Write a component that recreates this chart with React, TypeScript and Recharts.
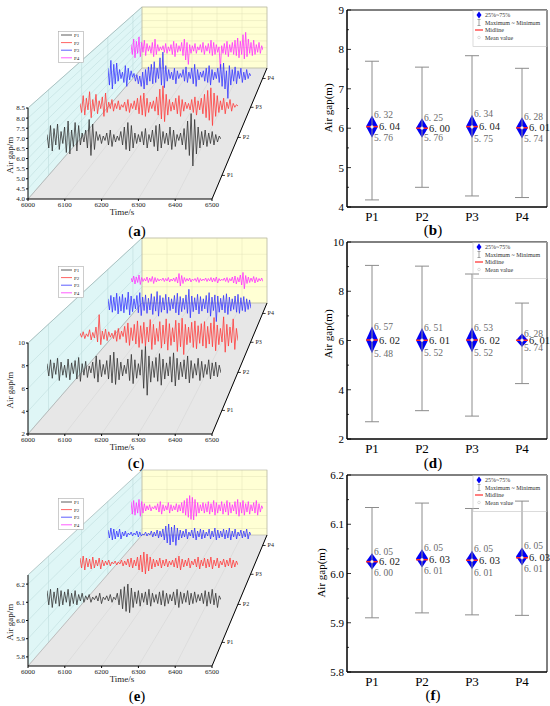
import React from "react";
import { ComposedChart, LineChart, Line, Bar, XAxis, YAxis, ReferenceArea, LabelList, ErrorBar } from "recharts";

const SERIF = '"Liberation Serif", "Times New Roman", serif';

const timeTicks = [6000, 6100, 6200, 6300, 6400, 6500];
const pointNames = ["P1", "P2", "P3", "P4"];
const traceColors = ["#333333", "#ff3b3b", "#3636ff", "#ff33ff"];

// ---- time series (a): air gap, m
const gapA1 = [
  6.3, 5.4, 6.9, 5.2, 6.7, 5.6, 7.0, 5.3, 6.5, 5.7, 6.8, 5.1, 7.2, 5.0, 6.6, 5.5, 7.1, 5.2, 6.9, 5.6,
  6.4, 5.8, 6.6, 5.4, 7.3, 4.9, 7.0, 5.3, 6.5, 5.9, 6.3, 5.7, 6.2, 5.9, 6.4, 5.6, 6.6, 5.5, 6.3, 5.8,
  6.2, 5.9, 6.5, 5.6, 6.8, 5.3, 7.1, 5.2, 6.9, 5.4, 6.4, 5.7, 6.3, 5.8, 6.5, 5.6, 6.7, 5.4, 6.3, 5.8,
  6.6, 5.5, 6.9, 5.2, 7.0, 5.4, 6.5, 5.7, 6.4, 5.6, 6.8, 5.3, 6.6, 5.5, 6.3, 5.9, 6.4, 5.6, 6.7, 5.3,
  7.2, 4.9, 7.7, 4.2, 7.3, 5.0, 6.8, 5.4, 6.5, 5.6, 6.6, 5.5, 6.4, 5.7, 6.5, 5.6, 6.3, 5.8, 6.2, 6.0,
];
const gapA2 = [
  6.2, 5.5, 6.8, 5.3, 6.6, 5.7, 7.1, 5.1, 6.5, 5.6, 6.9, 5.4, 6.4, 5.8, 6.7, 5.2, 7.0, 5.5, 6.3, 5.8,
  6.5, 5.6, 6.2, 5.8, 6.4, 5.7, 6.1, 5.9, 6.3, 5.6, 6.5, 5.5, 6.2, 5.8, 6.4, 5.7, 6.6, 5.4, 6.8, 5.3,
  7.0, 5.2, 6.6, 5.5, 6.3, 5.8, 6.4, 5.6, 6.7, 5.3, 7.3, 5.0, 7.55, 4.8, 6.9, 5.3, 6.5, 5.6, 6.3, 5.7,
  6.6, 5.4, 6.8, 5.2, 6.5, 5.6, 6.3, 5.8, 6.2, 5.7, 6.5, 5.5, 6.7, 5.3, 6.4, 5.7, 6.6, 5.4, 6.9, 5.1,
  7.2, 4.9, 7.4, 4.5, 7.0, 5.2, 6.8, 5.5, 6.4, 5.7, 6.6, 5.4, 6.3, 5.8, 6.5, 5.6, 6.2, 5.9, 6.1, 6.0,
];
const gapA3 = [
  6.6, 5.3, 7.2, 5.0, 6.9, 5.4, 7.0, 5.6, 6.5, 5.8, 6.3, 5.5, 6.8, 5.2, 6.6, 5.7, 6.4, 5.9, 6.2, 5.6,
  6.1, 5.4, 6.0, 5.2, 6.3, 5.0, 6.5, 5.3, 6.7, 5.6, 6.9, 5.4, 7.1, 5.5, 6.6, 5.8, 7.4, 5.3, 7.84, 5.1,
  6.8, 5.6, 6.5, 5.8, 6.3, 5.7, 6.6, 5.4, 6.4, 5.8, 6.2, 5.9, 6.5, 5.6, 6.7, 5.5, 6.3, 5.8, 6.6, 5.4,
  6.9, 5.2, 6.5, 5.7, 6.3, 5.9, 6.4, 5.6, 6.6, 5.5, 6.8, 5.3, 6.5, 5.7, 6.3, 5.8, 6.6, 5.5, 6.9, 5.2,
  7.0, 5.0, 6.4, 4.28, 6.8, 5.3, 6.5, 5.6, 6.7, 5.4, 6.4, 5.8, 6.6, 5.5, 6.3, 5.7, 6.5, 5.8, 6.2, 6.0,
];
const gapA4 = [
  6.4, 5.5, 6.9, 5.2, 6.7, 5.6, 7.1, 5.3, 6.6, 5.7, 6.8, 5.4, 6.5, 5.8, 6.3, 5.6, 6.6, 5.3, 6.9, 5.5,
  6.4, 5.8, 6.2, 5.9, 6.3, 5.7, 6.5, 5.6, 6.2, 5.8, 6.4, 5.5, 6.7, 5.3, 6.5, 5.7, 6.3, 5.8, 6.6, 5.4,
  6.9, 5.0, 6.6, 4.6, 6.4, 5.6, 6.3, 5.8, 6.5, 5.6, 6.2, 5.9, 6.4, 5.7, 6.6, 5.5, 6.3, 5.8, 6.5, 5.6,
  6.8, 5.4, 6.6, 5.5, 6.4, 5.7, 6.2, 4.24, 6.3, 5.6, 6.5, 5.5, 6.7, 5.3, 6.4, 5.7, 6.6, 5.5, 6.8, 5.4,
  7.0, 5.2, 6.7, 5.5, 7.3, 5.1, 7.52, 5.3, 6.9, 5.6, 6.6, 5.4, 6.8, 5.5, 6.4, 5.7, 6.6, 5.6, 6.3, 5.9,
];

// ---- time series (c)
const gapC1 = [
  6.8, 5.2, 7.3, 4.9, 6.9, 5.4, 7.5, 4.6, 7.0, 5.3, 6.6, 5.0, 7.4, 4.7, 6.9, 5.5, 7.2, 4.8, 7.6, 4.5,
  6.8, 5.3, 7.1, 5.0, 6.5, 5.6, 7.0, 4.9, 7.8, 4.4, 7.3, 5.1, 6.7, 5.4, 7.2, 4.8, 7.9, 4.3, 8.3, 4.1,
  7.5, 4.7, 7.0, 5.2, 6.6, 5.5, 7.4, 4.6, 8.0, 4.2, 7.3, 4.9, 6.8, 5.3, 8.6, 3.6, 9.05, 2.7, 7.8, 4.4,
  7.1, 5.0, 7.6, 4.5, 8.1, 4.0, 7.4, 4.8, 6.9, 5.2, 7.7, 4.4, 8.2, 3.9, 7.5, 4.7, 7.0, 5.1, 7.3, 4.8,
  7.8, 4.3, 7.2, 4.9, 6.8, 5.3, 7.5, 4.6, 7.1, 5.0, 6.7, 5.4, 7.3, 4.8, 6.9, 5.2, 7.0, 5.1, 6.6, 5.6,
];
const gapC2 = [
  6.3, 5.7, 6.5, 5.5, 6.2, 5.8, 6.8, 5.3, 6.4, 5.6, 7.2, 5.0, 9.02, 4.6, 6.6, 5.4, 6.9, 5.2, 6.5, 5.7,
  6.3, 5.5, 6.7, 5.1, 7.0, 5.4, 6.6, 5.8, 7.3, 4.9, 7.8, 4.5, 7.1, 5.2, 7.6, 4.7, 8.1, 4.2, 7.4, 4.8,
  7.9, 4.4, 7.2, 5.0, 8.3, 3.9, 7.6, 4.6, 7.0, 5.1, 8.0, 4.1, 7.5, 4.7, 8.4, 3.8, 7.7, 4.5, 7.1, 5.0,
  8.2, 3.6, 7.8, 4.3, 8.5, 3.15, 7.6, 4.6, 7.2, 4.9, 7.9, 4.2, 8.1, 4.0, 7.4, 4.8, 7.7, 4.4, 8.0, 4.1,
  7.3, 4.7, 7.8, 4.3, 8.6, 3.7, 7.5, 4.6, 7.0, 5.0, 8.7, 3.5, 7.6, 4.4, 7.2, 4.9, 8.4, 3.9, 7.0, 5.2,
];
const gapC3 = [
  7.0, 5.0, 7.6, 4.6, 7.3, 4.9, 8.0, 4.3, 7.4, 4.8, 7.8, 4.5, 7.2, 5.1, 8.2, 4.1, 7.5, 4.7, 7.0, 5.2,
  7.6, 4.5, 8.1, 4.0, 7.3, 4.9, 7.7, 4.4, 7.1, 5.0, 7.9, 4.2, 7.4, 4.8, 8.3, 3.9, 7.6, 4.6, 7.2, 5.0,
  7.8, 4.4, 7.3, 4.9, 7.0, 5.2, 7.6, 4.5, 8.0, 4.1, 7.4, 4.7, 7.1, 5.1, 7.7, 4.4, 8.7, 3.6, 7.5, 4.7,
  7.2, 5.0, 7.8, 4.3, 7.4, 4.8, 7.0, 5.2, 7.6, 4.5, 8.1, 3.9, 7.3, 4.9, 7.7, 2.93, 7.5, 4.6, 7.1, 5.0,
  7.6, 4.5, 7.9, 4.2, 7.3, 4.8, 7.0, 5.1, 7.5, 4.6, 7.8, 4.4, 7.2, 4.9, 7.4, 4.7, 7.0, 5.1, 6.8, 5.3,
];
const gapC4 = [
  6.4, 5.6, 6.8, 5.2, 6.6, 5.5, 7.0, 5.1, 6.5, 5.7, 6.3, 5.8, 6.6, 5.5, 6.4, 5.7, 6.7, 5.3, 6.5, 5.6,
  6.3, 5.8, 6.2, 5.9, 6.4, 5.7, 6.3, 5.8, 6.5, 5.6, 6.2, 5.8, 6.4, 5.7, 6.6, 5.4, 7.3, 4.8, 6.9, 5.3,
  6.5, 5.7, 6.3, 5.8, 6.4, 5.6, 6.2, 5.9, 6.3, 5.7, 6.5, 5.5, 6.3, 5.8, 6.2, 5.9, 6.4, 5.7, 6.3, 5.8,
  6.5, 5.6, 6.4, 5.7, 6.6, 5.4, 6.3, 5.8, 6.2, 5.9, 6.4, 5.7, 6.5, 5.5, 6.3, 5.8, 6.6, 5.4, 6.8, 5.2,
  6.5, 5.6, 7.0, 5.0, 7.52, 4.25, 6.9, 5.3, 6.6, 5.5, 6.4, 5.7, 6.7, 5.4, 6.5, 5.6, 6.3, 5.8, 6.4, 5.7,
];

// ---- time series (e)
const gapE1 = [
  6.08, 5.97, 6.09, 5.95, 6.07, 5.98, 6.10, 5.96, 6.08, 5.97, 6.07, 5.99, 6.09, 5.96, 6.06, 5.98, 6.08, 5.97, 6.05, 6.00,
  6.06, 5.99, 6.04, 6.01, 6.05, 5.99, 6.03, 6.01, 6.04, 6.00, 6.06, 5.98, 6.03, 6.01, 6.04, 6.00, 6.05, 5.99, 6.03, 6.01,
  6.06, 5.97, 6.09, 5.94, 6.11, 5.92, 6.13, 5.91, 6.10, 5.95, 6.07, 5.98, 6.08, 5.96, 6.06, 5.99, 6.07, 5.97, 6.09, 5.96,
  6.06, 5.99, 6.05, 5.98, 6.07, 5.97, 6.08, 5.96, 6.06, 5.98, 6.05, 6.00, 6.07, 5.97, 6.09, 5.95, 6.07, 5.98, 6.06, 5.99,
  6.08, 5.97, 6.06, 5.98, 6.07, 5.99, 6.05, 6.00, 6.06, 5.98, 6.08, 5.96, 6.07, 5.98, 6.09, 5.97, 6.06, 5.95, 6.04, 6.01,
];
const gapE2 = [
  6.08, 5.98, 6.10, 5.96, 6.08, 5.99, 6.07, 5.97, 6.09, 5.98, 6.06, 6.00, 6.08, 5.97, 6.06, 6.00, 6.05, 6.01, 6.06, 6.00,
  6.04, 6.02, 6.05, 6.01, 6.04, 6.02, 6.06, 6.00, 6.05, 6.01, 6.07, 5.99, 6.08, 5.98, 6.06, 6.00, 6.09, 5.96, 6.11, 5.94,
  6.14, 5.92, 6.12, 5.95, 6.09, 5.97, 6.07, 5.99, 6.06, 6.00, 6.08, 5.98, 6.06, 6.00, 6.07, 5.99, 6.05, 6.01, 6.06, 5.99,
  6.08, 5.98, 6.10, 5.96, 6.07, 5.99, 6.06, 6.00, 6.08, 5.98, 6.05, 6.01, 6.07, 5.99, 6.09, 5.97, 6.06, 6.00, 6.08, 5.98,
  6.07, 5.99, 6.09, 5.97, 6.06, 6.00, 6.08, 5.98, 6.05, 6.01, 6.07, 5.99, 6.06, 6.00, 6.08, 5.98, 6.06, 5.99, 6.05, 6.01,
];
const gapE3 = [
  6.07, 5.99, 6.09, 5.97, 6.08, 5.98, 6.06, 6.00, 6.08, 5.98, 6.05, 6.01, 6.06, 6.00, 6.04, 6.02, 6.05, 6.01, 6.04, 6.02,
  6.06, 6.00, 6.05, 6.01, 6.03, 6.02, 6.05, 6.01, 6.04, 6.02, 6.06, 6.00, 6.05, 6.01, 6.07, 5.99, 6.06, 6.00, 6.08, 5.97,
  6.11, 5.94, 6.13, 5.92, 6.10, 5.95, 6.12, 5.916, 6.09, 5.97, 6.07, 5.99, 6.06, 6.00, 6.08, 5.98, 6.05, 6.01, 6.07, 5.99,
  6.09, 5.97, 6.06, 6.00, 6.08, 5.98, 6.07, 5.99, 6.05, 6.01, 6.08, 5.98, 6.06, 6.00, 6.09, 5.97, 6.07, 5.99, 6.06, 6.00,
  6.08, 5.98, 6.07, 5.99, 6.09, 5.97, 6.06, 6.00, 6.08, 5.98, 6.05, 6.01, 6.07, 5.99, 6.06, 6.00, 6.08, 5.98, 6.05, 6.02,
];
const gapE4 = [
  6.09, 5.97, 6.10, 5.96, 6.08, 5.98, 6.11, 5.95, 6.09, 5.98, 6.07, 6.00, 6.05, 6.01, 6.06, 6.00, 6.04, 6.02, 6.05, 6.01,
  6.07, 5.99, 6.09, 5.97, 6.06, 6.00, 6.05, 6.01, 6.08, 5.98, 6.06, 6.00, 6.05, 6.01, 6.07, 5.99, 6.06, 6.00, 6.08, 5.98,
  6.10, 5.96, 6.12, 5.94, 6.147, 5.92, 6.13, 5.915, 6.11, 5.95, 6.08, 5.98, 6.06, 6.00, 6.08, 5.98, 6.07, 5.99, 6.09, 5.97,
  6.07, 5.99, 6.10, 5.96, 6.08, 5.98, 6.06, 6.00, 6.09, 5.97, 6.07, 5.99, 6.10, 5.96, 6.08, 5.98, 6.06, 6.00, 6.09, 5.97,
  6.11, 5.95, 6.08, 5.98, 6.10, 5.96, 6.07, 5.99, 6.09, 5.97, 6.06, 6.00, 6.08, 5.98, 6.10, 5.96, 6.07, 5.99, 6.05, 6.02,
];

// ---- statistics (b)
const maxB = [7.7, 7.55, 7.84, 7.52];
const minB = [4.18, 4.5, 4.28, 4.24];
const q75B = [6.32, 6.25, 6.34, 6.28];
const medB = [6.04, 6.0, 6.04, 6.01];
const q25B = [5.76, 5.76, 5.75, 5.74];
const meanB = [6.03, 6.0, 6.03, 6.01];
const hiTextB = ["6.32", "6.25", "6.34", "6.28"];
const midTextB = ["6.04", "6.00", "6.04", "6.01"];
const loTextB = ["5.76", "5.76", "5.75", "5.74"];
const yMajorB = [4, 5, 6, 7, 8, 9];
const yMinorB = [4.5, 5.5, 6.5, 7.5, 8.5];

// ---- statistics (d)
const maxD = [9.05, 9.02, 8.7, 7.52];
const minD = [2.7, 3.15, 2.93, 4.25];
const q75D = [6.57, 6.51, 6.53, 6.28];
const medD = [6.02, 6.01, 6.02, 6.01];
const q25D = [5.48, 5.52, 5.52, 5.74];
const meanD = [6.02, 6.01, 6.02, 6.01];
const hiTextD = ["6.57", "6.51", "6.53", "6.28"];
const midTextD = ["6.02", "6.01", "6.02", "6.01"];
const loTextD = ["5.48", "5.52", "5.52", "5.74"];
const yMajorD = [2, 4, 6, 8, 10];
const yMinorD = [3, 5, 7, 9];

// ---- statistics (f)
const maxF = [6.134, 6.143, 6.132, 6.147];
const minF = [5.91, 5.92, 5.916, 5.915];
const q75F = [6.041, 6.049, 6.046, 6.053];
const medF = [6.024, 6.028, 6.027, 6.032];
const q25F = [6.008, 6.012, 6.009, 6.016];
const meanF = [6.024, 6.028, 6.027, 6.032];
const hiTextF = ["6.05", "6.05", "6.05", "6.05"];
const midTextF = ["6.02", "6.03", "6.03", "6.03"];
const loTextF = ["6.00", "6.01", "6.01", "6.01"];
const yMajorF = [5.8, 5.9, 6.0, 6.1, 6.2];
const yMinorF = [5.85, 5.95, 6.05, 6.15];

const spaced = (s: string) => s.replace(".", ". ");

// 3D box geometry (panel-local pixels)
const G = { fx0: 28, fx1: 212, fyT: 108, fyB: 199, bx0: 142, bx1: 267, byB: 68 };
const traceX = [[47, 221], [80, 238], [108, 251], [131, 263]];
const depthFrac = [0.18, 0.47, 0.7, 0.92];

const leftPanels = [
  {
    top: 0, byT: 7, tag: "a", domain: [4, 8.5], ticks: [4, 4.5, 5, 5.5, 6, 6.5, 7, 7.5, 8, 8.5], digits: 1,
    traceDomain: [3, 9], centers: [139, 106, 76, 49], scales: [15, 13, 13, 11], series: [gapA1, gapA2, gapA3, gapA4],
  },
  {
    top: 235, byT: 3, tag: "c", domain: [2, 10], ticks: [2, 4, 6, 8, 10], digits: 0,
    traceDomain: [2, 10], centers: [135, 100, 69, 45], scales: [7.7, 6.8, 5.6, 5], series: [gapC1, gapC2, gapC3, gapC4],
  },
  {
    top: 467, byT: 3, tag: "e", domain: [5.75, 6.25], ticks: [5.8, 5.9, 6.0, 6.1, 6.2], digits: 1,
    traceDomain: [5.8, 6.2], centers: [134, 99, 70, 44], scales: [130, 100, 100, 105], series: [gapE1, gapE2, gapE3, gapE4],
  },
];

const rightPanels = [
  { top: 0, tag: "b", domain: [4, 9], major: yMajorB, minor: yMinorB, digits: 0, ylabX: 328, ylab: 108, hiDy: -0.5, loDy: 0.5,
    max: maxB, min: minB, q75: q75B, med: medB, q25: q25B, mean: meanB, hi: hiTextB, mid: midTextB, lo: loTextB },
  { top: 232, tag: "d", domain: [2, 10], major: yMajorD, minor: yMinorD, digits: 0, ylabX: 328, ylab: 334, hiDy: 0.5, loDy: 1,
    max: maxD, min: minD, q75: q75D, med: medD, q25: q25D, mean: meanD, hi: hiTextD, mid: midTextD, lo: loTextD },
  { top: 465, tag: "f", domain: [5.8, 6.2], major: yMajorF, minor: yMinorF, digits: 1, ylabX: 321, ylab: 573, hiDy: -1.6, loDy: 3.5,
    max: maxF, min: minF, q75: q75F, med: medF, q25: q25F, mean: meanF, hi: hiTextF, mid: midTextF, lo: loTextF },
];

const lerp = (a: number, b: number, t: number) => a + (b - a) * t;

function Planes({ byT, domain, ticks }: any) {
  const { fx0, fx1, fyT, fyB, bx0, bx1, byB } = G;
  const [lo, hi] = domain;
  const yF = (v: number) => fyB - ((v - lo) / (hi - lo)) * (fyB - fyT);
  const yB = (v: number) => byB - ((v - lo) / (hi - lo)) * (byB - byT);
  const xs = timeTicks.map((_, i) => i / (timeTicks.length - 1));
  return (
    <svg width={290} height={235} style={{ position: "absolute", left: 0, top: 0 }}>
      <polygon points={`${fx0},${fyT} ${bx0},${byT} ${bx0},${byB} ${fx0},${fyB}`} fill="#dff6f6" />
      <polygon points={`${bx0},${byT} ${bx1},${byT} ${bx1},${byB} ${bx0},${byB}`} fill="#ffffd4" />
      <polygon points={`${fx0},${fyB} ${fx1},${fyB} ${bx1},${byB} ${bx0},${byB}`} fill="#e7e7e7" />
      {ticks.map((v: number) => (
        <g key={v}>
          <line x1={fx0} y1={yF(v)} x2={bx0} y2={yB(v)} stroke="#b9d8d8" strokeWidth={0.5} />
          <line x1={bx0} y1={yB(v)} x2={bx1} y2={yB(v)} stroke="#e2e2b8" strokeWidth={0.5} />
        </g>
      ))}
      {xs.map((t, i) => (
        <g key={i}>
          <line x1={lerp(fx0, fx1, t)} y1={fyB} x2={lerp(bx0, bx1, t)} y2={byB} stroke="#d2d2d2" strokeWidth={0.5} />
          <line x1={lerp(bx0, bx1, t)} y1={byT} x2={lerp(bx0, bx1, t)} y2={byB} stroke="#e2e2b8" strokeWidth={0.5} />
        </g>
      ))}
      {depthFrac.map((d, i) => (
        <line key={i} x1={lerp(fx0, bx0, d)} y1={lerp(fyT, byT, d)} x2={lerp(fx0, bx0, d)} y2={lerp(fyB, byB, d)}
          stroke="#b9d8d8" strokeWidth={0.5} />
      ))}
      <line x1={fx0} y1={fyT} x2={bx0} y2={byT} stroke="#8fa8a8" strokeWidth={0.6} />
      <rect x={bx0} y={byT} width={bx1 - bx0} height={byB - byT} fill="none" stroke="#b0b0a0" strokeWidth={0.6} />
      <line x1={fx0} y1={fyB} x2={bx0} y2={byB} stroke="#9a9a9a" strokeWidth={0.5} />
      <line x1={fx1} y1={fyB} x2={bx1} y2={byB} stroke="#000" strokeWidth={1} />
      {depthFrac.map((d, i) => {
        const x = lerp(fx1, bx1, d);
        const y = lerp(fyB, byB, d);
        return (
          <g key={pointNames[i]}>
            <line x1={x} y1={y} x2={x + 3} y2={y} stroke="#000" strokeWidth={0.8} />
            <text x={x + 5} y={y + 2} fontSize={6} fontFamily={SERIF} fill="#222">{pointNames[i]}</text>
          </g>
        );
      })}
    </svg>
  );
}

function TraceLegend() {
  return (
    <svg width={26} height={32} style={{ position: "absolute", left: 58, top: 31 }}>
      <rect x={0.5} y={0.5} width={25} height={31} fill="#fff" stroke="#aaa" strokeWidth={0.6} />
      {pointNames.map((n, i) => (
        <g key={n}>
          <line x1={3} x2={14} y1={4 + i * 7.6} y2={4 + i * 7.6} stroke={traceColors[i]} strokeWidth={0.8} />
          <text x={16} y={6 + i * 7.6} fontSize={5} fontFamily={SERIF} fill="#222">{n}</text>
        </g>
      ))}
    </svg>
  );
}

function Trace({ values, color, x0, x1, center, scale, domain }: any) {
  const [lo, hi] = domain;
  const rows = values.map((v: number, i: number) => ({ i, v }));
  return (
    <div style={{ position: "absolute", left: x0, top: center - (hi - 6) * scale }}>
      <LineChart width={x1 - x0} height={(hi - lo) * scale} data={rows} margin={{ top: 0, right: 0, bottom: 0, left: 0 }}>
        <XAxis dataKey="i" type="number" domain={[0, values.length - 1]} hide />
        <YAxis type="number" domain={[lo, hi]} hide allowDataOverflow />
        <Line dataKey="v" stroke={color} strokeWidth={0.8} dot={false} isAnimationActive={false} />
      </LineChart>
    </div>
  );
}

function WaterfallPanel({ p }: any) {
  const frameRows = timeTicks.map((t) => ({ t, v: null }));
  const tickStyle = { fontSize: 7, fill: "#222", fontFamily: SERIF };
  return (
    <div style={{ position: "absolute", left: 0, top: p.top, width: 290, height: 235 }}>
      <Planes byT={p.byT} domain={p.domain} ticks={p.ticks} />
      <div style={{ position: "absolute", left: 0, top: G.fyT - 5 }}>
        <ComposedChart width={224} height={5 + (G.fyB - G.fyT) + 20} data={frameRows}
          margin={{ top: 5, right: 12, left: 0, bottom: 0 }}>
          <XAxis dataKey="t" type="number" domain={[6000, 6500]} ticks={timeTicks} interval={0} height={20}
            tickSize={2} tickMargin={1} axisLine={{ stroke: "#000" }} tickLine={{ stroke: "#000" }} tick={tickStyle} />
          <YAxis type="number" domain={p.domain} ticks={p.ticks} interval={0} width={28} tickSize={2} tickMargin={1}
            tickFormatter={(v: number) => v.toFixed(p.digits)} axisLine={{ stroke: "#000" }} tickLine={{ stroke: "#000" }}
            tick={tickStyle} allowDataOverflow />
          <Line dataKey="v" stroke="none" dot={false} isAnimationActive={false} />
        </ComposedChart>
      </div>
      {[3, 2, 1, 0].map((k) => (
        <Trace key={k} values={p.series[k]} color={traceColors[k]} x0={traceX[k][0]} x1={traceX[k][1]}
          center={p.centers[k]} scale={p.scales[k]} domain={p.traceDomain} />
      ))}
      <TraceLegend />
      <div style={{ position: "absolute", left: 10, top: 155, transform: "translate(-50%,-50%) rotate(-90deg)",
        fontSize: 9, whiteSpace: "nowrap", color: "#222" }}>Air gap/m</div>
      <div style={{ position: "absolute", left: 122, top: 212, transform: "translate(-50%,-50%)",
        fontSize: 9, whiteSpace: "nowrap", color: "#222" }}>Time/s</div>
    </div>
  );
}

const Diamond = (props: any) => {
  const { x, y, width, height } = props;
  const cx = x + width / 2;
  const t = Math.min(y, y + height);
  const b = Math.max(y, y + height);
  const m = (t + b) / 2;
  return <polygon points={`${cx},${t} ${cx + width / 2},${m} ${cx},${b} ${cx - width / 2},${m}`} fill="#0000f5" />;
};

const labelFont = { fontFamily: SERIF };
const AXIS_X = 57; // left plot edge inside the stats chart

const makeYTick = (majors: number[], digits: number) => (t: any) => {
  const v = t.payload.value;
  const major = majors.includes(v);
  return (
    <g>
      <line x1={AXIS_X} x2={AXIS_X + (major ? 4 : 2)} y1={t.y} y2={t.y} stroke="#000" strokeWidth={0.8} />
      {major && (
        <text x={AXIS_X - 3} y={t.y} textAnchor="end" dominantBaseline="central" fontSize={11} fill="#000"
          fontFamily={SERIF}>{v.toFixed(digits)}</text>
      )}
    </g>
  );
};

function StatsPanel({ p }: any) {
  const rows = pointNames.map((name, i) => ({
    name,
    err: [p.med[i] - p.min[i], p.max[i] - p.med[i]],
    box: [p.q25[i], p.q75[i]],
    med: p.med[i],
    mean: p.mean[i],
    q75: p.q75[i],
    q25: p.q25[i],
    hiText: spaced(p.hi[i]),
    midText: spaced(p.mid[i]),
    loText: spaced(p.lo[i]),
  }));
  const [lo, hi] = p.domain;
  const plotTop = p.top + 10;
  const allTicks = [...p.major, ...p.minor].sort((a: number, b: number) => a - b);
  return (
    <>
      <div style={{ position: "absolute", left: 290, top: p.top }}>
        <ComposedChart width={260} height={232} data={rows} margin={{ top: 10, right: 3, left: 27, bottom: 5 }}>
          <XAxis dataKey="name" type="category" height={20} tickSize={3} tickMargin={2}
            axisLine={{ stroke: "#000" }} tickLine={false}
            tick={{ fontSize: 13, fill: "#000", fontFamily: SERIF }} />
          <YAxis type="number" domain={p.domain} ticks={allTicks} interval={0} width={30} tickSize={3} tickMargin={2}
            axisLine={{ stroke: "#000" }} tickLine={false} tick={makeYTick(p.major, p.digits)} allowDataOverflow />
          <ReferenceArea y1={lo} y2={hi} fill="none" stroke="#000" strokeWidth={1} ifOverflow="visible" />
          <Line dataKey="med" stroke="none" dot={false} activeDot={false} isAnimationActive={false}>
            <ErrorBar dataKey="err" direction="y" width={7} stroke="#8c8c8c" strokeWidth={1} />
          </Line>
          <Bar dataKey="box" barSize={12} shape={Diamond} isAnimationActive={false} />
          <Line dataKey="q75" stroke="none" dot={false} activeDot={false} isAnimationActive={false}>
            <LabelList dataKey="hiText" content={(l: any) => (
              <text x={l.x + 2} y={l.y + p.hiDy} dominantBaseline="central" fontSize={9.5} fill="#6a6a6a" {...labelFont}>{l.value}</text>
            )} />
          </Line>
          <Line dataKey="q25" stroke="none" dot={false} activeDot={false} isAnimationActive={false}>
            <LabelList dataKey="loText" content={(l: any) => (
              <text x={l.x + 2} y={l.y + p.loDy} dominantBaseline="central" fontSize={9.5} fill="#6a6a6a" {...labelFont}>{l.value}</text>
            )} />
          </Line>
          <Line dataKey="med" stroke="none" activeDot={false} isAnimationActive={false}
            dot={(d: any) => (
              <line key={`m${d.index}`} x1={d.cx - 6} x2={d.cx + 6} y1={d.cy} y2={d.cy} stroke="#ff2a2a" strokeWidth={1.5} />
            )}>
            <LabelList dataKey="midText" content={(l: any) => (
              <text x={l.x + 7} y={l.y} dominantBaseline="central" fontSize={10.5} fill="#222" {...labelFont}>{l.value}</text>
            )} />
          </Line>
          <Line dataKey="mean" stroke="none" activeDot={false} isAnimationActive={false}
            dot={(d: any) => (
              <circle key={`c${d.index}`} cx={d.cx} cy={d.cy} r={1.4} fill="#fff" stroke="#c8c8c8" strokeWidth={0.5} />
            )} />
        </ComposedChart>
      </div>
      <svg width={85} height={40} style={{ position: "absolute", left: 465, top: plotTop }}>
        <rect x={8} y={0.5} width={74} height={36} fill="none" stroke="#c4c4c4" strokeWidth={0.6} />
        <polygon points="14,1.5 16.5,5 14,8.5 11.5,5" fill="#0000f5" />
        <text x={20} y={7} fontSize={6} fontFamily={SERIF} fill="#333">25%~75%</text>
        <g stroke="#8c8c8c" strokeWidth={0.8}>
          <line x1={14} x2={14} y1={9.5} y2={15.5} />
          <line x1={12.5} x2={15.5} y1={9.5} y2={9.5} />
          <line x1={12.5} x2={15.5} y1={15.5} y2={15.5} />
        </g>
        <text x={20} y={14.5} fontSize={6} fontFamily={SERIF} fill="#333">Maximum ~ Minimum</text>
        <line x1={10} x2={18} y1={20} y2={20} stroke="#ff2a2a" strokeWidth={1.2} />
        <text x={20} y={22} fontSize={6} fontFamily={SERIF} fill="#333">Midline</text>
        <circle cx={14} cy={27.5} r={1.3} fill="#fff" stroke="#bbb" strokeWidth={0.5} />
        <text x={20} y={29.5} fontSize={6} fontFamily={SERIF} fill="#333">Mean value</text>
      </svg>
      <div style={{ position: "absolute", left: p.ylabX, top: p.ylab, transform: "translate(-50%,-50%) rotate(-90deg)",
        fontSize: 11, whiteSpace: "nowrap", color: "#000" }}>Air gap(m)</div>
    </>
  );
}

function Caption({ x, y, tag }: any) {
  return (
    <div style={{ position: "absolute", left: x - 20, top: y - 12, width: 40, textAlign: "center", fontSize: 15,
      lineHeight: "15px", color: "#000" }}>
      (<b>{tag}</b>)
    </div>
  );
}

export default function App() {
  return (
    <div style={{ position: "absolute", left: 0, top: 0, width: 550, height: 706, background: "#fff",
      fontFamily: SERIF, overflow: "hidden" }}>
      {leftPanels.map((p) => <WaterfallPanel key={p.tag} p={p} />)}
      {rightPanels.map((p) => <StatsPanel key={p.tag} p={p} />)}
      <Caption x={137} y={236} tag="a" />
      <Caption x={433} y={235} tag="b" />
      <Caption x={136} y={468} tag="c" />
      <Caption x={433} y={468} tag="d" />
      <Caption x={137} y={701} tag="e" />
      <Caption x={433} y={700} tag="f" />
    </div>
  );
}
